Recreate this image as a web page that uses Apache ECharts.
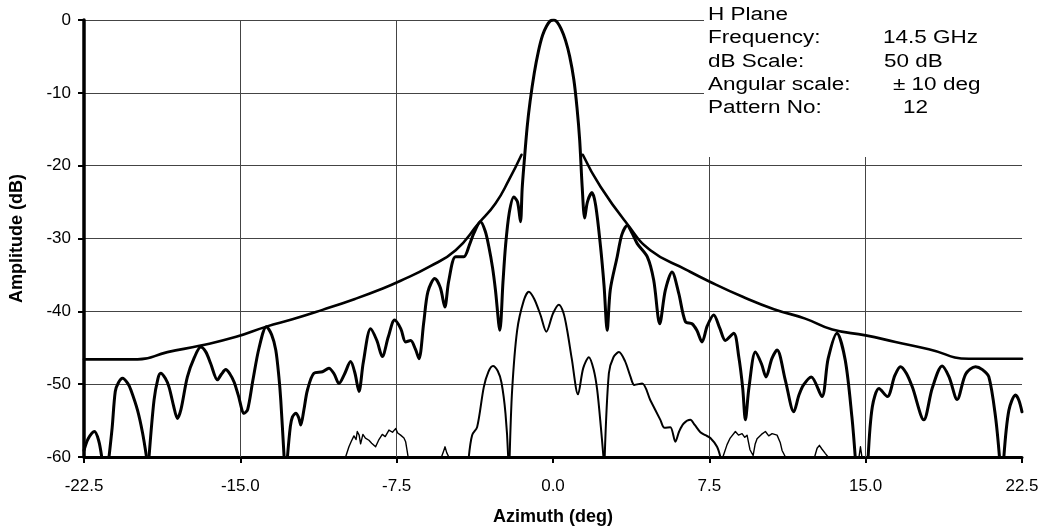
<!DOCTYPE html>
<html>
<head>
<meta charset="utf-8">
<script src="https://cdn.jsdelivr.net/npm/echarts@6/dist/echarts.min.js"></script>
<style>
  html, body { margin: 0; padding: 0; background: #fff; }
  #chart { width: 1047px; height: 531px; }
</style>
</head>
<body>
<div id="chart"></div>
<script>
// Axis ranges (deg / dB)
const azimuthRange = [-22.5, 22.5];
const azimuthStep = 7.5;
const amplitudeRange = [-60, 0];
const amplitudeStep = 10;
const azimuthGridlines = [-15, -7.5, 7.5, 15];

// Measured co-polar H-plane pattern, split where it drops below the -60 dB floor
const coPolar = [
  [[-22.5,-59.1],[-22.3,-57.5],[-22.0,-56.5],[-21.8,-57.7],[-21.65,-60]],
  [[-21.3,-60],[-21.15,-56.0],[-21.0,-51.0],[-20.85,-49.8],[-20.65,-49.2],[-20.4,-49.9],[-20.25,-50.8],
   [-19.93,-53.6],[-19.69,-56.7],[-19.5,-60]],
  [[-19.38,-60],[-19.14,-52.2],[-18.95,-49.2],[-18.82,-48.5],[-18.6,-49.2],[-18.42,-50.4],[-18.2,-53.0],
   [-18.02,-54.7],[-17.85,-53.5],[-17.54,-49.0],[-17.2,-46.3],[-16.9,-44.9],[-16.65,-45.6],[-16.42,-47.2],
   [-16.1,-49.4],[-15.9,-48.6],[-15.7,-48.0],[-15.5,-48.6],[-15.3,-49.7],[-15.1,-51.5],[-14.82,-54.0],
   [-14.65,-53.5],[-14.4,-49.5],[-14.1,-45.0],[-13.75,-42.1],[-13.5,-43.2],[-13.3,-45.3],[-13.15,-49.0],
   [-13.06,-52.2],[-12.9,-60]],
  [[-12.74,-60],[-12.6,-55.8],[-12.5,-54.5],[-12.34,-54.0],[-12.2,-54.6],[-12.1,-55.6],[-11.95,-53.5],
   [-11.78,-50.8],[-11.47,-48.5],[-11.06,-48.3],[-10.75,-47.8],[-10.5,-48.6],[-10.27,-49.9],[-10.0,-48.6],
   [-9.71,-46.9],[-9.5,-48.5],[-9.31,-51.0],[-9.1,-47.0],[-8.75,-42.4],[-8.45,-44.0],[-8.19,-46.2],
   [-7.9,-43.5],[-7.6,-41.2],[-7.3,-42.4],[-7.07,-44.2],[-6.83,-44.0],[-6.6,-45.2],[-6.43,-46.5],
   [-6.2,-41.5],[-6.0,-37.3],[-5.67,-35.5],[-5.4,-36.8],[-5.19,-39.4],[-5.0,-35.8],[-4.67,-32.5],
   [-4.28,-32.5],[-4.0,-30.8],[-3.8,-29.3],[-3.48,-27.7],[-3.25,-29.0],[-3.08,-31.1],[-2.9,-34.0],
   [-2.76,-37.1],[-2.55,-42.6],[-2.4,-36.0],[-2.28,-31.1],[-2.1,-26.5],[-1.88,-24.3],[-1.7,-25.0],
   [-1.56,-27.7],[-1.48,-23.2],[-1.4,-20.1],[-1.24,-14.7],[-1.1,-11.2],[-0.9,-7.3],[-0.7,-4.3],
   [-0.5,-2.1],[-0.3,-0.8],[-0.12,-0.1],[0.05,0],[0.2,-0.3],[0.4,-1.3],[0.6,-2.8],[0.8,-5.0],
   [1.0,-8.2],[1.15,-12.0],[1.28,-16.5],[1.4,-22.9],[1.52,-27.2],[1.65,-25.0],[1.87,-23.7],
   [2.05,-25.5],[2.28,-31.1],[2.45,-36.5],[2.6,-42.6],[2.75,-37.0],[3.08,-32.5],[3.3,-29.5],[3.56,-28.2],
   [3.8,-29.3],[4.04,-30.7],[4.52,-32.5],[4.83,-35.7],[5.12,-41.7],[5.39,-37.1],[5.71,-34.6],[6.03,-37.5],
   [6.35,-41.4],[6.67,-41.7],[6.9,-42.6],[7.15,-44.2],[7.4,-42.0],[7.71,-40.5],[8.0,-42.3],[8.27,-44.0],
   [8.67,-43.0],[8.91,-46.2],[9.1,-50.5],[9.23,-54.9],[9.4,-50.5],[9.71,-45.6],[10.0,-47.2],[10.22,-49.0],
   [10.5,-46.5],[10.75,-45.3],[11.15,-49.5],[11.55,-53.8],[11.8,-51.5],[12.02,-50.1],[12.39,-49.0],
   [12.9,-51.7],[13.2,-46.5],[13.62,-43.0],[14.02,-46.7],[14.34,-54.5],[14.5,-60]],
  [[15.12,-60],[15.32,-53.1],[15.64,-50.6],[16.04,-51.7],[16.4,-48.8],[16.67,-47.6],[16.95,-48.5],
   [17.24,-50.4],[17.79,-54.9],[18.2,-50.5],[18.67,-47.5],[19.0,-49.0],[19.39,-52.1],[19.8,-48.6],
   [20.27,-47.6],[20.6,-48.0],[20.91,-49.0],[21.23,-54.5],[21.42,-60]],
  [[21.63,-60],[21.87,-53.6],[22.19,-51.5],[22.35,-52.2],[22.5,-53.8]]
];

// Sidelobe envelope (mask), left and right of the main beam
const envelopeLeft = [
  [-22.5,-46.6],[-19.93,-46.6],[-18.5,-45.6],[-16.9,-44.7],[-15.2,-43.5],[-13.75,-42.1],[-12.5,-41.1],
  [-11.06,-39.8],[-9.5,-38.3],[-8.2,-36.9],[-7.31,-35.8],[-5.95,-33.9],[-4.67,-31.6],[-3.56,-27.9],
  [-2.76,-25.2],[-2.12,-22.0],[-1.51,-18.5]
];
const envelopeRight = [
  [1.43,-18.5],[2.28,-22.9],[3.56,-28.0],[4.67,-31.6],[6.4,-34.3],[7.5,-35.9],[9.1,-38.0],
  [10.6,-39.7],[12.1,-41.0],[13.4,-42.5],[15.0,-43.3],[16.43,-44.2],[18.03,-45.2],[19.95,-46.5],
  [22.5,-46.5]
];

// Cross-polar pattern around boresight
const crossPolar = [
  [[-4.04,-60],[-3.88,-57.0],[-3.64,-55.9],[-3.32,-50.4],[-3.1,-48.3],[-2.88,-47.5],[-2.65,-48.2],
   [-2.47,-49.8],[-2.28,-54.0],[-2.15,-60]],
  [[-2.08,-60],[-1.96,-50.8],[-1.72,-42.6],[-1.4,-38.5],[-1.16,-37.3],[-0.9,-38.3],[-0.6,-40.5],
   [-0.32,-42.8],[0.0,-40.3],[0.28,-39.1],[0.5,-40.2],[0.68,-42.6],[0.9,-46.5],[1.2,-51.4],[1.45,-47.8],
   [1.72,-46.3],[1.95,-48.0],[2.12,-50.8],[2.3,-56.0],[2.42,-60]],
  [[2.48,-60],[2.68,-48.5],[2.9,-46.3],[3.16,-45.6],[3.45,-46.8],[3.72,-49.0],[3.9,-50.1],[4.28,-49.9],
   [4.67,-52.2],[5.15,-54.9],[5.35,-56.0],[5.63,-55.9],[5.87,-57.9],[6.05,-56.5],[6.27,-55.4],[6.59,-54.9],
   [6.8,-55.6],[7.07,-56.6],[7.31,-57.0],[7.55,-57.4],[7.87,-58.6],[8.03,-60]]
];

// Low-level cross-polar residue near the noise floor
const crossPolarFloor = [
  [[-9.95,-60],[-9.79,-58.6],[-9.67,-57.8],[-9.55,-57.1],[-9.45,-57.6],[-9.39,-56.5],[-9.3,-57.0],
   [-9.23,-58.2],[-9.12,-56.9],[-9.0,-57.4],[-8.83,-57.7],[-8.7,-58.1],[-8.51,-58.6],[-8.35,-57.6],
   [-8.19,-56.9],[-8.05,-57.2],[-7.87,-56.3],[-7.7,-56.6],[-7.55,-56.1],[-7.45,-56.7],[-7.31,-57.0],
   [-7.15,-57.4],[-7.07,-57.9],[-6.95,-60]],
  [[-5.35,-60],[-5.25,-59.2],[-5.18,-58.6],[-5.1,-59.4],[-5.0,-60]],
  [[8.15,-60],[8.35,-58.3],[8.5,-57.4],[8.75,-56.5],[8.9,-57.0],[9.07,-56.8],[9.2,-57.3],[9.31,-57.0],
   [9.45,-59.0],[9.6,-59.8],[9.7,-58.2],[9.79,-57.5],[10.0,-56.9],[10.19,-56.5],[10.35,-57.1],
   [10.51,-56.8],[10.75,-57.0],[10.9,-58.0],[10.99,-59.1],[11.15,-60]],
  [[12.55,-60],[12.67,-58.8],[12.78,-58.4],[12.9,-58.9],[13.06,-59.5],[13.2,-60]],
  [[14.68,-60],[14.75,-58.6],[14.82,-60]]
];

// Measurement notes
const noteTitle = 'H Plane';
const noteKeys = ['Frequency:', 'dB Scale:', 'Angular scale:', 'Pattern No:'];
const noteValues = ['14.5 GHz', '50 dB', '\u00B1 10 deg', '12'];

const FONT = '"Liberation Sans", Arial, sans-serif';

function curve(name, segments, width, smooth, z) {
  return segments.map((seg) => ({
    name,
    type: 'line',
    data: seg,
    showSymbol: false,
    smooth,
    silent: true,
    clip: true,
    z,
    lineStyle: { color: '#000', width, cap: 'round', join: 'round' }
  }));
}

const series = [
  ...curve('Co-polar', coPolar, 3, 0.3, 4),
  ...curve('Envelope', [envelopeLeft, envelopeRight], 2.6, 0.5, 3),
  ...curve('Cross-polar', crossPolar, 2, 0.3, 3),
  ...curve('Cross-polar floor', crossPolarFloor, 1.4, false, 3)
];

// Vertical gridlines (none at boresight or the right edge)
series[0].markLine = {
  silent: true,
  z: 1,
  symbol: ['none', 'none'],
  label: { show: false },
  animation: false,
  lineStyle: { color: '#444', width: 1, type: 'solid' },
  data: azimuthGridlines.map((v) => ({ xAxis: v }))
};

// Notes block: white panel over the top-right of the plot
const lineH = 23.4;
const noteFont = '18px ' + FONT;
const noteScale = 1.25;
const graphics = [
  { type: 'rect', z: 50, shape: { x: 704, y: 0, width: 343, height: 157 }, style: { fill: '#fff' } },
  { type: 'text', z: 51, x: 708, y: 15, scaleX: noteScale,
    style: { text: noteTitle, font: noteFont, fill: '#000', verticalAlign: 'middle' } }
];
const valueX = [883, 884, 893, 903];
noteKeys.forEach((k, i) => {
  const y = 38.3 + i * lineH;
  graphics.push({ type: 'text', z: 51, x: 708, y, scaleX: noteScale,
    style: { text: k, font: noteFont, fill: '#000', verticalAlign: 'middle' } });
  graphics.push({ type: 'text', z: 51, x: valueX[i], y, scaleX: noteScale,
    style: { text: noteValues[i], font: noteFont, fill: '#000', verticalAlign: 'middle' } });
});

const chart = echarts.init(document.getElementById('chart'), null, { renderer: 'canvas' });
chart.setOption({
  animation: false,
  backgroundColor: '#fff',
  grid: { left: 83, right: 25, top: 20, bottom: 74, containLabel: false },
  xAxis: {
    type: 'value',
    min: azimuthRange[0],
    max: azimuthRange[1],
    interval: azimuthStep,
    name: 'Azimuth (deg)',
    nameLocation: 'middle',
    nameGap: 51,
    nameTextStyle: { fontFamily: FONT, fontSize: 18, fontWeight: 'bold', color: '#000' },
    axisLine: { show: true, onZero: false, lineStyle: { color: '#000', width: 3 } },
    axisTick: { show: true, length: 6, lineStyle: { color: '#000', width: 2 } },
    axisLabel: { fontFamily: FONT, fontSize: 17, color: '#000', margin: 21,
      formatter: (v) => v.toFixed(1) },
    splitLine: { show: false }
  },
  yAxis: {
    type: 'value',
    min: amplitudeRange[0],
    max: amplitudeRange[1],
    interval: amplitudeStep,
    name: 'Amplitude (dB)',
    nameLocation: 'middle',
    nameGap: 58,
    nameTextStyle: { fontFamily: FONT, fontSize: 18, fontWeight: 'bold', color: '#000' },
    axisLine: { show: true, onZero: false, lineStyle: { color: '#000', width: 3.5 } },
    axisTick: { show: true, length: 6, lineStyle: { color: '#000', width: 2 } },
    axisLabel: { fontFamily: FONT, fontSize: 17, color: '#000', margin: 13 },
    splitLine: { show: true, lineStyle: { color: '#444', width: 1 } }
  },
  graphic: graphics,
  series
});
</script>
</body>
</html>
